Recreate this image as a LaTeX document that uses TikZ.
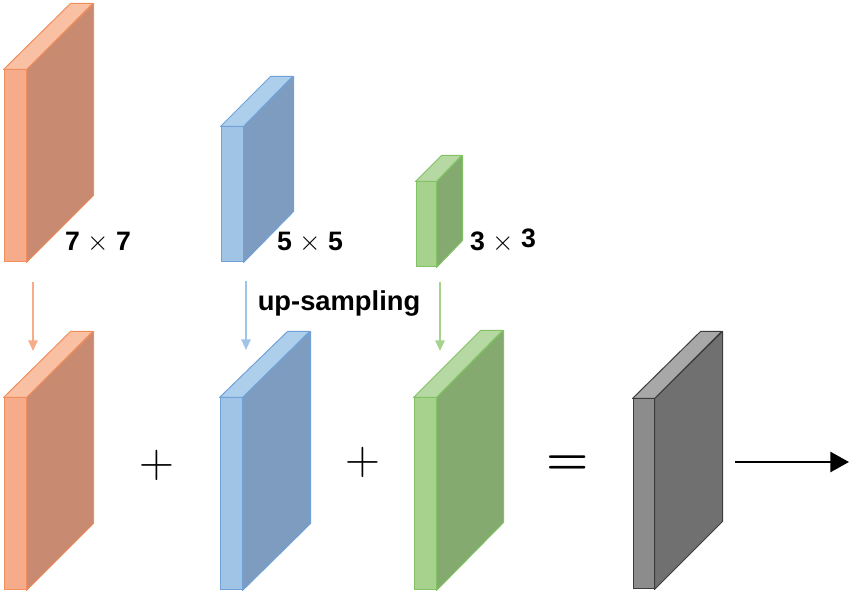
\documentclass[tikz,border=0pt]{standalone}
\usepackage{fontspec}
\setmainfont{Liberation Sans}
\usetikzlibrary{arrows.meta}

\definecolor{orangeface}{RGB}{246,172,138}
\definecolor{orangeside}{RGB}{200,138,112}
\definecolor{orangetop}{RGB}{249,192,163}
\definecolor{orangeedge}{RGB}{240,142,92}
\definecolor{blueface}{RGB}{160,196,230}
\definecolor{blueside}{RGB}{126,156,192}
\definecolor{bluetop}{RGB}{174,207,236}
\definecolor{blueedge}{RGB}{112,162,216}
\definecolor{greenface}{RGB}{166,210,142}
\definecolor{greenside}{RGB}{132,170,112}
\definecolor{greentop}{RGB}{182,216,162}
\definecolor{greenedge}{RGB}{128,194,100}
\definecolor{grayface}{RGB}{140,140,140}
\definecolor{grayside}{RGB}{112,112,112}
\definecolor{graytop}{RGB}{168,168,168}
\definecolor{grayedge}{RGB}{60,60,60}

\tikzset{every picture/.style={line width=0.75pt}}
\tikzset{
  front/.style={draw=#1edge, fill=#1face, inner sep=0pt, minimum width=16.5pt},
  side/.style={draw=#1edge, fill=#1side, line join=round},
  top/.style={draw=#1edge, fill=#1top, line join=round},
  lbl/.style={font=\bfseries\fontsize{20}{24}\selectfont, inner sep=0.75pt},
  sym/.style={font=\fontsize{20}{20}\selectfont, inner sep=0pt},
  down/.style={draw=#1face, line width=1.5pt, -{Triangle[length=8pt,width=7pt]}},
}

\begin{document}
\begin{tikzpicture}[x=0.75pt,y=0.75pt,yscale=-1,xscale=1]
    \useasboundingbox (0,0) rectangle (851,609);

    %Shape: Slab 7x7 [top row]
    \node [front=orange, minimum height=144pt] (o7) at (15,166) {};
    \draw [side=orange] (o7.north east) -- ++(67,-66) -- ++(0,192) -- (o7.south east) -- cycle ;
    \draw [top=orange] (o7.north west) -- ++(67,-66) -- ++(22,0) -- (o7.north east) -- cycle ;

    %Shape: Slab 5x5 [top row]
    \node [front=blue, minimum height=101.25pt] (b5) at (232,194.5) {};
    \draw [side=blue] (b5.north east) -- ++(50,-50) -- ++(0,135) -- (b5.south east) -- cycle ;
    \draw [top=blue] (b5.north west) -- ++(50,-50) -- ++(22,0) -- (b5.north east) -- cycle ;

    %Shape: Slab 3x3 [top row]
    \node [front=green, minimum width=15pt, minimum height=63.75pt] (g3) at (426,224.5) {};
    \draw [side=green] (g3.north east) -- ++(26,-26) -- ++(0,85) -- (g3.south east) -- cycle ;
    \draw [top=green] (g3.north west) -- ++(26,-26) -- ++(20,0) -- (g3.north east) -- cycle ;

    %Shape: Slab orange [bottom row]
    \node [front=orange, minimum height=144pt] (o7up) at (15,494) {};
    \draw [side=orange] (o7up.north east) -- ++(67,-66) -- ++(0,192) -- (o7up.south east) -- cycle ;
    \draw [top=orange] (o7up.north west) -- ++(67,-66) -- ++(22,0) -- (o7up.north east) -- cycle ;

    %Shape: Slab blue [bottom row]
    \node [front=blue, minimum height=144pt] (b5up) at (231,494) {};
    \draw [side=blue] (b5up.north east) -- ++(68,-66) -- ++(0,192) -- (b5up.south east) -- cycle ;
    \draw [top=blue] (b5up.north west) -- ++(68,-66) -- ++(22,0) -- (b5up.north east) -- cycle ;

    %Shape: Slab green [bottom row]
    \node [front=green, minimum height=144pt] (g3up) at (425,494) {};
    \draw [side=green] (g3up.north east) -- ++(67,-67) -- ++(0,192) -- (g3up.south east) -- cycle ;
    \draw [top=green] (g3up.north west) -- ++(67,-67) -- ++(22,0) -- (g3up.north east) -- cycle ;

    %Shape: Slab sum
    \node [front=gray, minimum width=15.75pt, minimum height=142.5pt] (sum) at (643.5,494) {};
    \draw [side=gray] (sum.north east) -- ++(68,-67) -- ++(0,190) -- (sum.south east) -- cycle ;
    \draw [top=gray] (sum.north west) -- ++(68,-67) -- ++(21,0) -- (sum.north east) -- cycle ;

    % Text Node
    \node [lbl] (l7) at (98,242) {7 $\times$ 7};
    % Text Node
    \node [lbl] (l5) at (310,242) {5 $\times$ 5};
    % Text Node
    \node [lbl] (l3) at (503,241) {3 $\times$ \raisebox{2pt}{3}};
    % Text Node
    \node [lbl, font=\bfseries\fontsize{20.5}{24}\selectfont] (ups) at (339,303) {up-sampling};

    % Text Node
    \node [sym] (plusa) at (157,465) {\scalebox{1.75}{$+$}};
    % Text Node
    \node [sym] (plusb) at (363,462) {\scalebox{1.75}{$+$}};
    % Text Node
    \node [sym] (eq) at (568,465) {\scalebox{1.75}{\boldmath$=$}};

    %Straight Lines
    \coordinate (oa) at (33,282);
    \coordinate (ob) at (33,351);
    \draw [down=orange] (oa) -- (ob) ;
    %Straight Lines
    \coordinate (ba) at (246,281);
    \coordinate (bb) at (246,350);
    \draw [down=blue] (ba) -- (bb) ;
    %Straight Lines
    \coordinate (ga) at (440,282);
    \coordinate (gb) at (440,351);
    \draw [down=green] (ga) -- (gb) ;

    %Straight Lines
    \coordinate (outa) at (735,462);
    \coordinate (outb) at (849,462);
    \draw [line width=2pt, -{Triangle[length=14pt,width=15pt]}] (outa) -- (outb) ;

\end{tikzpicture}
\end{document}
